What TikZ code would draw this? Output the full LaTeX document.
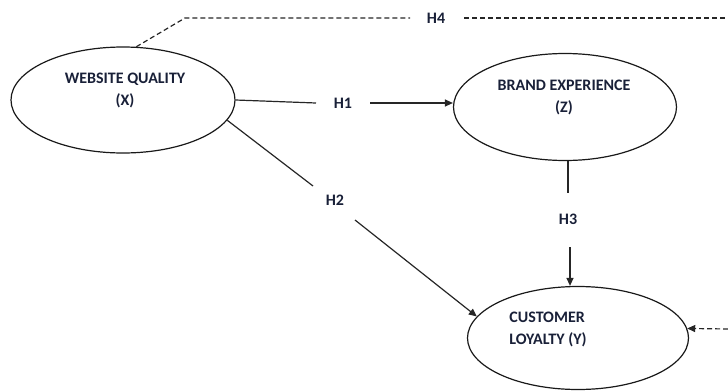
\documentclass[tikz,border=0pt]{standalone}
\usepackage{fontspec}
\setmainfont{Carlito}
\usetikzlibrary{shapes.geometric,arrows.meta}
\definecolor{txt}{RGB}{25,32,56}
\begin{document}
\begin{tikzpicture}[x=1pt,y=-1pt,
 oval/.style={draw=black!90, ellipse, line width=1.2pt, inner sep=0pt},
 lbl/.style={font=\bfseries\fontsize{16}{22}\selectfont, text=txt, inner sep=0pt},
 conn/.style={line width=1.2pt, draw=black!85},
 tip/.style={-{Triangle[length=8pt,width=7pt]}},
 arr/.style={conn, tip},
 dsh/.style={conn, line width=1.2pt, dash pattern=on 5pt off 3pt}]
\useasboundingbox (0,0) rectangle (728,391);
% ellipses
\node[oval, minimum width=224pt, minimum height=106pt] (X) at (123,100) {};
\node[oval, minimum width=223pt, minimum height=107pt] (Z) at (565,107) {};
\node[oval, minimum width=221pt, minimum height=103pt] (Y) at (578,338) {};
% texts
\node[lbl, align=center] (xt) at (125,90) {WEBSITE QUALITY\\(X)};
\node[lbl, align=center] (zt) at (564,97) {BRAND EXPERIENCE\\(Z)};
\node[lbl, align=left] (yt) at (548,329) {CUSTOMER\\LOYALTY (Y)};
% hypothesis labels
\node[lbl] (h1) at (343,103) {H1};
\node[lbl] (h2) at (335,200) {H2};
\node[lbl] (h3) at (568,219) {H3};
\node[lbl] (h4) at (436,18) {H4};
% break points
\coordinate (h1a) at (316,103);
\coordinate (h1b) at (370,103);
\coordinate (h2a) at (313,186);
\coordinate (h2b) at (355,220);
\coordinate (h3a) at (568,193);
\coordinate (h3b) at (570,247);
\coordinate (h4c) at (185,18);
\coordinate (h4a) at (410,18);
\coordinate (h4b) at (464,18);
\coordinate (edgeT) at (728,18);
\coordinate (edgeR) at (728,329);
% connectors
\draw[conn] (X.east) -- (h1a);
\draw[arr] (h1b) -- (Z.west |- h1b);
\draw[conn] (X.-11) -- (h2a);
\draw[arr] (h2b) -- (Y.168);
\draw[conn] (h3a |- Z.south) -- (h3a);
\draw[arr] (h3b) -- (h3b |- Y.north);
\draw[dsh] (X.76) -- (h4c) -- (h4a);
\draw[dsh] (h4b) -- (edgeT);
\draw[dsh, tip] (edgeR) -- (Y.5);
\end{tikzpicture}
\end{document}
